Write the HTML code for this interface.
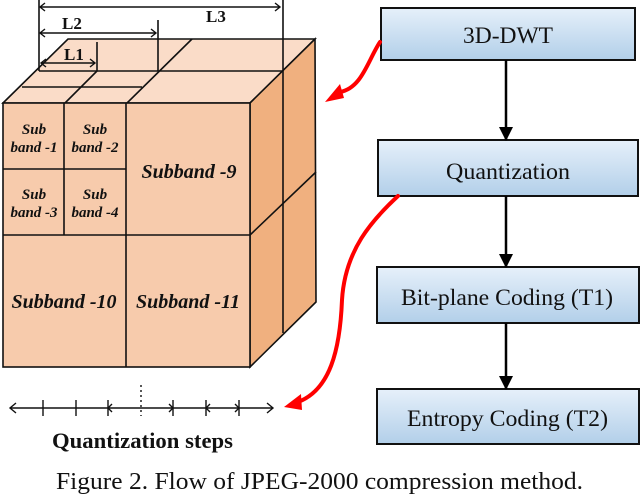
<!DOCTYPE html>
<html><head><meta charset="utf-8"><style>
html,body{margin:0;padding:0;background:#fff;}
svg{display:block;}
text{font-family:"Liberation Serif",serif;}
</style></head><body>
<svg width="640" height="495" viewBox="0 0 640 495" xmlns="http://www.w3.org/2000/svg">
<defs>
<linearGradient id="bg" x1="0" y1="0" x2="0" y2="1">
<stop offset="0" stop-color="#e6f0fa"/><stop offset="1" stop-color="#b2cfe9"/>
</linearGradient>
<marker id="ah" markerWidth="14" markerHeight="14" refX="13" refY="7" orient="auto" markerUnits="userSpaceOnUse">
<path d="M0,0 L14,7 L0,14 z" fill="#000"/></marker>
</defs>
<g stroke="#111" stroke-width="1.6" fill="none">
<polygon points="3,103 68,39 315,39 250,103" fill="#fadcc8"/>
<polygon points="250,103 315,39 316,302 250,367" fill="#f0b07f"/>
<rect x="3" y="103" width="247" height="264" fill="#f7cbac"/>
<line x1="64" y1="103" x2="64" y2="235"/>
<line x1="126" y1="103" x2="126" y2="367"/>
<line x1="3" y1="169" x2="126" y2="169"/>
<line x1="3" y1="235" x2="250" y2="235"/>
<line x1="39" y1="71" x2="283" y2="71"/>
<line x1="22" y1="87" x2="142" y2="87"/>
<line x1="192" y1="39" x2="127" y2="103"/>
<line x1="97" y1="71" x2="65" y2="103"/>
<line x1="283" y1="0" x2="283" y2="333"/>
<line x1="250" y1="235" x2="316" y2="172"/>
<line x1="39" y1="0" x2="39" y2="71"/>
<line x1="158" y1="20" x2="158" y2="71"/>
<line x1="97" y1="42" x2="97" y2="71"/>
</g>
<g stroke="#111" stroke-width="1.4" fill="none">
<path d="M40,7 H280 M45,3 L40,7 L45,11 M275,3 L280,7 L275,11"/>
<path d="M40,33 H156 M45,29 L40,33 L45,37 M151,29 L156,33 L151,37"/>
<path d="M41,63 H95 M46,59 L41,63 L46,67 M90,59 L95,63 L90,67"/>
</g>
<g font-weight="bold" font-size="17" fill="#111">
<text x="62" y="29">L2</text><text x="64" y="60">L1</text><text x="206" y="22">L3</text>
</g>
<g font-style="italic" font-weight="bold" fill="#111" text-anchor="middle">
<text x="34" y="134" font-size="15">Sub</text><text x="34" y="152" font-size="15">band -1</text>
<text x="95" y="134" font-size="15">Sub</text><text x="95" y="152" font-size="15">band -2</text>
<text x="34" y="199" font-size="15">Sub</text><text x="34" y="217" font-size="15">band -3</text>
<text x="95" y="199" font-size="15">Sub</text><text x="95" y="217" font-size="15">band -4</text>
<text x="189" y="178" font-size="20">Subband -9</text>
<text x="64" y="308" font-size="20">Subband -10</text>
<text x="188" y="308" font-size="20">Subband -11</text>
</g>
<g stroke="#111" stroke-width="1.4" fill="none">
<line x1="10" y1="408" x2="273" y2="408"/>
<path d="M16,403 L10,408 L16,413 M267,403 L273,408 L267,413"/>
<path d="M43,400 V416 M76,400 V416 M108,400 V416 M173,400 V416 M206,400 V416 M239,400 V416"/>
<path d="M112,404 L108,408 L112,412 M169,404 L173,408 L169,412 M210,404 L206,408 L210,412 M235,404 L239,408 L235,412"/>
<line x1="141" y1="385" x2="141" y2="416" stroke-dasharray="2,3"/>
</g>
<text x="52" y="448" textLength="181" lengthAdjust="spacingAndGlyphs" font-weight="bold" font-size="22.5" fill="#111">Quantization steps</text>
<g stroke="#111" stroke-width="2" fill="url(#bg)">
<rect x="381" y="8" width="254" height="52"/>
<rect x="378" y="140" width="260" height="56"/>
<rect x="377" y="267" width="262" height="56"/>
<rect x="377" y="389" width="262" height="55"/>
</g>
<g stroke="#000" stroke-width="2.5" marker-end="url(#ah)">
<line x1="506" y1="60" x2="506" y2="140"/>
<line x1="506" y1="196" x2="506" y2="267"/>
<line x1="506" y1="323" x2="506" y2="389"/>
</g>
<g font-size="23.5" fill="#111">
<text x="463" y="43" textLength="90" lengthAdjust="spacingAndGlyphs">3D-DWT</text>
<text x="446" y="179" textLength="124" lengthAdjust="spacingAndGlyphs">Quantization</text>
<text x="401" y="305" textLength="212" lengthAdjust="spacingAndGlyphs">Bit-plane Coding (T1)</text>
<text x="407" y="426" textLength="201" lengthAdjust="spacingAndGlyphs">Entropy Coding (T2)</text>
</g>
<g stroke="#f00" stroke-width="4" fill="none" stroke-linecap="round">
<path d="M380,42 C368,60 362,88 340,92"/>
<path d="M398,196 C372,220 345,250 342,300 C340,350 330,390 298,402"/>
</g>
<g fill="#f00">
<polygon points="325,102 340,84 344,98"/>
<polygon points="284,407 301,394 302,410"/>
</g>
<text x="56" y="489" textLength="527" lengthAdjust="spacingAndGlyphs" font-size="24" fill="#111">Figure 2. Flow of JPEG-2000 compression method.</text>
</svg>
</body></html>
